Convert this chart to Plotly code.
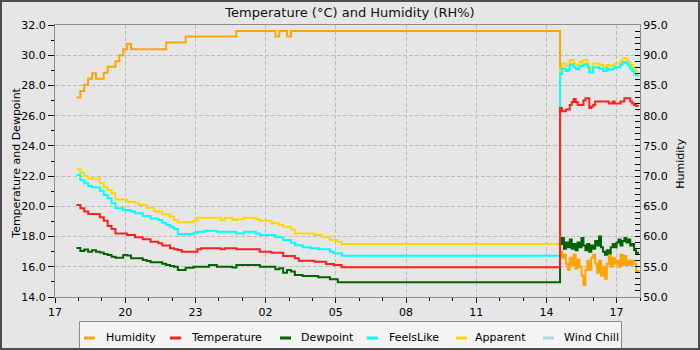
import plotly.graph_objects as go
import pandas as pd

# ---------------- data ----------------
left_start, left_n, left_step = "2024-05-16 17:55", 69, "10min"
right_start, right_n, right_step = "2024-05-17 14:35", 41, "5min"
times = list(pd.date_range(left_start, periods=left_n, freq=left_step)) + \
        list(pd.date_range(right_start, periods=right_n, freq=right_step))

humidity = [
    83.0, 84.1, 85.1, 86.1, 87.0, 86.1, 86.1, 87.1, 88.1, 88.1,
    89.0, 90.0, 91.0, 91.9, 91.0, 91.0, 91.0, 91.0, 91.0, 91.0,
    91.0, 91.0, 91.0, 92.1, 92.1, 92.1, 92.1, 92.1, 93.1, 93.1,
    93.1, 93.1, 93.1, 93.1, 93.1, 93.1, 93.1, 93.1, 93.1, 93.1,
    93.1, 94.0, 94.0, 94.0, 94.0, 94.0, 94.0, 94.0, 94.0, 94.0,
    94.0, 93.1, 94.0, 94.0, 93.1, 94.0, 94.0, 94.0, 94.0, 94.0,
    94.0, 94.0, 94.0, 94.0, 94.0, 94.0, 94.0, 94.0, 94.0,
    57.5, 56.5, 57.0, 55.5, 54.5, 56.5, 55.3, 57.0, 54.7, 56.2,
    55.0, 53.5, 52.0, 54.5, 56.0, 54.5, 56.5, 57.0, 55.5, 54.0,
    56.0, 53.5, 55.0, 53.0, 55.5, 57.0, 55.0, 56.5, 55.5, 56.0,
    55.0, 57.0, 55.3, 56.8, 55.3, 56.0, 55.3, 56.0, 55.5, 54.2, 54.5,
]

temperature = [
    20.09, 19.87, 19.65, 19.49, 19.49, 19.49, 19.27, 19.05, 18.7, 18.5,
    18.21, 18.21, 18.21, 18.1, 18.1, 17.95, 17.95, 17.82, 17.82, 17.66,
    17.66, 17.55, 17.4, 17.4, 17.22, 17.16, 17.11, 17.0, 17.0, 17.0,
    17.0, 17.16, 17.22, 17.22, 17.22, 17.22, 17.22, 17.16, 17.22, 17.22,
    17.22, 17.16, 17.16, 17.16, 17.16, 17.16, 17.16, 17.0, 17.0, 17.0,
    16.93, 16.93, 16.93, 16.71, 16.71, 16.71, 16.56, 16.4, 16.4, 16.4,
    16.4, 16.34, 16.34, 16.34, 16.18, 16.18, 16.12, 16.12, 15.97,
    26.5, 26.3, 26.3, 26.4, 26.4, 26.7, 26.9, 27.1, 26.9, 26.7,
    26.7, 26.7, 27.0, 27.15, 27.15, 26.5, 26.6, 26.7, 26.93, 26.93,
    26.93, 26.93, 26.93, 26.93, 26.93, 26.8, 26.8, 26.93, 26.8, 26.8,
    26.8, 26.93, 26.93, 27.15, 27.15, 27.15, 26.93, 26.8, 26.7, 26.64, 26.6,
]

dewpoint = [
    17.25, 17.05, 17.15, 17.0, 17.1, 17.0, 16.95, 16.85, 16.78, 16.67,
    16.6, 16.6, 16.78, 16.75, 16.56, 16.56, 16.56, 16.45, 16.38, 16.3,
    16.3, 16.3, 16.2, 16.12, 16.05, 16.0, 15.79, 15.79, 15.94, 15.94,
    16.0, 16.0, 16.0, 16.0, 16.12, 16.12, 16.0, 16.0, 16.0, 16.0,
    15.95, 16.12, 16.12, 16.12, 16.12, 16.12, 16.12, 16.0, 16.0, 16.0,
    16.0, 15.83, 15.9, 15.61, 15.79, 15.68, 15.45, 15.45, 15.39, 15.39,
    15.39, 15.39, 15.3, 15.3, 15.3, 15.17, 15.17, 14.97, 14.97,
    17.5, 17.9, 17.2, 17.6, 17.3, 17.8, 17.2, 17.5, 17.1, 17.6,
    17.3, 17.9, 17.4, 17.1, 17.5, 17.0, 17.4, 17.2, 17.7, 17.4,
    18.0, 17.3, 17.0, 16.8, 17.1, 16.9, 17.3, 17.5, 17.3, 17.6,
    17.8, 17.4, 17.7, 17.9, 17.6, 17.8, 17.4, 17.5, 17.1, 16.9, 17.0,
]

feelslike = [
    22.07, 21.74, 21.52, 21.34, 21.26, 21.26, 21.03, 20.75, 20.53, 20.2,
    19.87, 19.87, 19.76, 19.76, 19.65, 19.54, 19.54, 19.36, 19.36, 19.2,
    19.2, 19.1, 18.92, 18.76, 18.65, 18.5, 18.17, 18.17, 18.17, 18.17,
    18.26, 18.32, 18.32, 18.39, 18.39, 18.39, 18.32, 18.32, 18.32, 18.32,
    18.32, 18.21, 18.21, 18.32, 18.32, 18.32, 18.21, 18.1, 18.1, 18.1,
    18.1, 17.95, 17.95, 17.77, 17.77, 17.59, 17.42, 17.42, 17.29, 17.29,
    17.22, 17.22, 17.16, 17.16, 17.16, 17.0, 16.89, 16.89, 16.73,
    28.75, 29.1, 29.1, 28.95, 29.0, 29.35, 29.4, 29.2, 29.1, 29.05,
    29.25, 29.3, 29.4, 29.4, 29.2, 28.85, 28.85, 29.2, 29.2, 29.2,
    29.1, 29.1, 28.95, 28.95, 29.1, 29.05, 29.05, 29.1, 29.2, 29.2,
    29.2, 29.35, 29.5, 29.55, 29.45, 29.3, 29.1, 28.95, 28.75, 28.65, 28.7,
]

apparent = [
    22.45, 22.23, 22.0, 21.85, 21.85, 21.85, 21.52, 21.26, 21.08, 20.86,
    20.46, 20.46, 20.46, 20.31, 20.31, 20.24, 20.09, 20.09, 19.91, 19.91,
    19.65, 19.65, 19.47, 19.47, 19.31, 19.1, 18.94, 18.94, 18.94, 18.94,
    19.05, 19.25, 19.25, 19.25, 19.25, 19.25, 19.25, 19.1, 19.25, 19.25,
    19.1, 19.15, 19.15, 19.25, 19.25, 19.25, 19.15, 19.05, 19.05, 19.05,
    18.88, 18.88, 18.76, 18.65, 18.65, 18.48, 18.21, 18.21, 18.21, 18.21,
    18.21, 18.1, 18.1, 17.95, 17.95, 17.77, 17.77, 17.66, 17.5,
    29.1, 29.46, 29.46, 29.3, 29.3, 29.68, 29.68, 29.46, 29.35, 29.35,
    29.55, 29.6, 29.68, 29.68, 29.46, 29.1, 29.1, 29.46, 29.46, 29.46,
    29.4, 29.35, 29.2, 29.2, 29.35, 29.3, 29.3, 29.35, 29.46, 29.46,
    29.46, 29.6, 29.8, 29.8, 29.7, 29.55, 29.35, 29.2, 29.0, 28.9, 28.9,
]

wind_chill = []   # no wind chill values reported in this period

series_names = ["Humidity", "Temperature", "Dewpoint", "FeelsLike", "Apparent", "Wind Chill"]
series_colors = ["#FFA500", "#FF2020", "#006400", "#00FFFF", "#FFD700", "#ADD8E6"]

x_range = ["2024-05-16 17:00", "2024-05-17 18:00"]
temp_range, temp_dtick = [14, 32], 2
hum_range, hum_dtick = [50, 95], 5

# ---------------- layout helpers ----------------
W, H = 700, 350
L, R, T, B = 55, 60, 25, 53
PW, PH = W - L - R, H - T - B


def px(x):
    return (x - L) / PW


def py(y):
    return (H - B - y) / PH


FONT = "DejaVu Sans"
BG = "#E6E6E6"

fig = go.Figure()

# Humidity on the main (right-side) axis so it is drawn underneath
fig.add_trace(go.Scatter(x=times, y=humidity, name=series_names[0], mode="lines",
                         yaxis="y", line=dict(color=series_colors[0], width=2, shape="hv"),
                         showlegend=False))
# temperature-type series drawn in reverse order (Temperature ends up on top)
temp_series = list(zip(series_names[1:],
                       [temperature, dewpoint, feelslike, apparent, wind_chill],
                       series_colors[1:]))
for name, vals, col in reversed(temp_series):
    if not vals:
        continue
    fig.add_trace(go.Scatter(x=times, y=vals, name=name, mode="lines", yaxis="y2",
                             line=dict(color=col, width=2, shape="hv"),
                             showlegend=False))

axis_line = "#8C8C8C"
grid_col = "#BDBDBD"

fig.update_layout(
    width=W, height=H,
    margin=dict(l=L, r=R, t=T, b=B, autoexpand=False),
    paper_bgcolor=BG, plot_bgcolor=BG,
    font=dict(family=FONT, size=11, color="#000000"),
    title=dict(text="Temperature (°C) and Humidity (RH%)", x=0.5, xref="container",
               xanchor="center", y=1 - 12 / H, yanchor="middle",
               font=dict(family=FONT, size=13, color="#111111")),
    showlegend=False,
    hovermode=False,
    xaxis=dict(
        type="date", range=x_range, tick0=x_range[0], dtick=3 * 3600000,
        tickformat="%H", ticks="outside", ticklen=5, tickcolor="#000000",
        showline=True, linecolor=axis_line, linewidth=1, mirror=True,
        showgrid=True, gridcolor=grid_col, griddash="4px,2px", gridwidth=1,
        zeroline=False,
        minor=dict(dtick=3600000, ticks="outside", ticklen=3, tickcolor="#000000",
                   showgrid=False),
        tickfont=dict(family=FONT, size=11, color="#000000"),
    ),
    yaxis=dict(
        side="right", range=hum_range, dtick=hum_dtick, tick0=50, tickformat=".1f",
        ticks="inside", ticklen=5, tickcolor="#000000",
        showline=True, linecolor=axis_line, linewidth=1,
        showgrid=False, zeroline=False,
        minor=dict(dtick=1, ticks="inside", ticklen=5, tickcolor="#000000", showgrid=False),
        tickfont=dict(family=FONT, size=11, color="#000000"),
    ),
    yaxis2=dict(
        side="left", overlaying="y", range=temp_range, dtick=temp_dtick, tick0=14,
        tickformat=".1f", ticks="outside", ticklen=6, tickcolor="#000000",
        showline=True, linecolor=axis_line, linewidth=1,
        showgrid=True, gridcolor=grid_col, griddash="4px,2px", gridwidth=1,
        zeroline=False,
        minor=dict(dtick=1, ticks="outside", ticklen=3, tickcolor="#000000", showgrid=False),
        tickfont=dict(family=FONT, size=11, color="#000000"),
    ),
)

# ---------------- axis titles ----------------
annotations = [
    dict(text="Temperature and Dewpoint", xref="paper", yref="paper", x=px(17), y=0.49,
         xanchor="center", yanchor="middle", textangle=-90, showarrow=False,
         font=dict(family=FONT, size=11, color="#000000")),
    dict(text="Humidity", xref="paper", yref="paper", x=px(681), y=0.49,
         xanchor="center", yanchor="middle", textangle=-90, showarrow=False,
         font=dict(family=FONT, size=11, color="#000000")),
]

# ---------------- custom legend (box, swatches, labels) ----------------
shapes = [dict(type="rect", xref="paper", yref="paper",
               x0=px(79.5), x1=px(621.5), y0=py(349), y1=py(321.5),
               fillcolor="#F4F4F4", line=dict(color="#8A8A8A", width=1), layer="above")]
swatch_x = [84, 170, 280, 367, 456, 543]
label_x = [104, 189, 299, 387, 473, 562]
leg_y = 337.5
for name, col, sx, lx in zip(series_names, series_colors, swatch_x, label_x):
    shapes.append(dict(type="line", xref="paper", yref="paper",
                       x0=px(sx), x1=px(sx + 11), y0=py(leg_y + 0.5), y1=py(leg_y + 0.5),
                       line=dict(color=col, width=3), layer="above"))
    annotations.append(dict(text=name, xref="paper", yref="paper", x=px(lx), y=py(leg_y),
                            xanchor="left", yanchor="middle", showarrow=False,
                            font=dict(family=FONT, size=11, color="#000000")))

# outer frame
shapes.append(dict(type="rect", xref="paper", yref="paper",
                   x0=px(1), x1=px(699), y0=py(349), y1=py(1),
                   line=dict(color="#4D4D4D", width=2), fillcolor="rgba(0,0,0,0)",
                   layer="above"))

fig.update_layout(shapes=shapes, annotations=annotations)

fig.write_html("out.html")
